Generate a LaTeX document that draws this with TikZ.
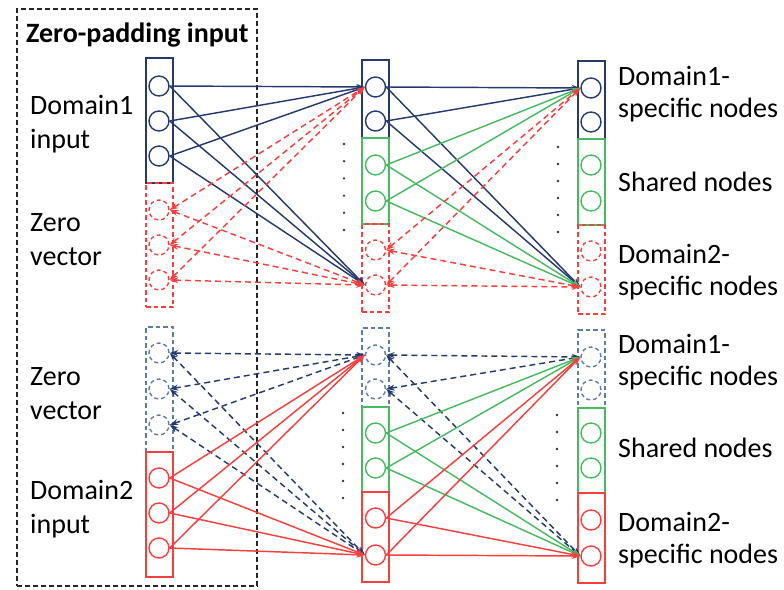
\documentclass[tikz,border=0pt]{standalone}
\usepackage{fontspec}
\setmainfont{Carlito}
\usetikzlibrary{arrows.meta}
\definecolor{navy}{RGB}{38,58,112}
\definecolor{dred}{RGB}{250,62,62}
\definecolor{sgreen}{RGB}{72,186,98}
\definecolor{steel}{RGB}{92,124,170}

\begin{document}
\begin{tikzpicture}[x=1pt,y=-1pt,
  unit/.style={circle, draw, minimum size=20pt, inner sep=0pt, line width=1.4pt},
  zunit/.style={unit, dash pattern=on 4pt off 3pt},
  colbox/.style={draw, line width=1.5pt, minimum width=27pt, inner sep=0pt},
  zbox/.style={colbox, dash pattern=on 4.5pt off 3pt},
  link/.style={line width=1.45pt, -{Stealth[length=8.5pt,width=6pt]}},
  zlink/.style={line width=1.45pt, dash pattern=on 6pt off 4pt,
    {Stealth[length=8.5pt,width=6pt]}-{Stealth[length=8.5pt,width=6pt]}},
  lbl/.style={font=\fontsize{28}{34}\selectfont, align=left, anchor=west, inner sep=0pt},
  rlbl/.style={lbl, font=\fontsize{28}{32}\selectfont},
  dot/.style={fill=black!80}
]
\useasboundingbox (0,0) rectangle (784,589);

% zero-padding frame
\node[draw=black!85, line width=1.2pt, dash pattern=on 5pt off 3pt,
  minimum width=240pt, minimum height=577pt, inner sep=0pt] (frame) at (137,297.5) {};
\node[lbl, font=\fontsize{28}{34}\selectfont\bfseries, anchor=base west] (title) at (26,42) {Zero-padding input};

% ---------------- upper network ----------------
% input column
\node[colbox, draw=navy, minimum height=125pt] (tinA) at (159.5,120.5) {};
\node[zbox, draw=dred, minimum height=124pt] (tinZ) at (159.5,245) {};
\node[unit, draw=navy] (a1) at (159,86) {};
\node[unit, draw=navy] (a2) at (159,121) {};
\node[unit, draw=navy] (a3) at (159,156) {};
\node[zunit, draw=dred] (a4) at (159,210) {};
\node[zunit, draw=dred] (a5) at (159,245) {};
\node[zunit, draw=dred] (a6) at (159,280) {};

% hidden column
\node[colbox, draw=navy, minimum height=78pt] (thA) at (375.5,99) {};
\node[colbox, draw=sgreen, minimum height=86pt] (thS) at (375.5,181) {};
\node[zbox, draw=dred, minimum height=88pt] (thB) at (375.5,268) {};
\node[unit, draw=navy] (b1) at (375.5,87) {};
\node[unit, draw=navy] (b2) at (375.5,121) {};
\node[unit, draw=sgreen] (b3) at (375.5,165) {};
\node[unit, draw=sgreen] (b4) at (375.5,201) {};
\node[zunit, draw=dred] (b5) at (375.5,250) {};
\node[zunit, draw=dred] (b6) at (375.5,285) {};

% output column
\node[colbox, draw=navy, minimum height=78pt] (toA) at (591.5,100) {};
\node[colbox, draw=sgreen, minimum height=86pt] (toS) at (591.5,182) {};
\node[zbox, draw=dred, minimum height=89pt] (toB) at (591.5,269.5) {};
\node[unit, draw=navy] (c1) at (591,88) {};
\node[unit, draw=navy] (c2) at (591,122) {};
\node[unit, draw=sgreen] (c3) at (591,165) {};
\node[unit, draw=sgreen] (c4) at (591,201) {};
\node[zunit, draw=dred] (c5) at (591,251) {};
\node[zunit, draw=dred] (c6) at (591,287) {};

% connections
\foreach \s in {a1,a2,a3} \foreach \t in {b1,b6} \draw[link, navy] (\s.east) -- (\t.west);
\foreach \s in {a4,a5,a6} \foreach \t in {b1,b6} \draw[zlink, dred] (\s.east) -- (\t.west);
\foreach \s in {b1,b2} \foreach \t in {c1,c6} \draw[link, navy] (\s.east) -- (\t.west);
\foreach \s in {b3,b4} \foreach \t in {c1,c6} \draw[link, sgreen] (\s.east) -- (\t.west);
\foreach \s in {b5,b6} \foreach \t in {c1,c6} \draw[zlink, dred] (\s.east) -- (\t.west);

% ellipsis dots
\foreach \k in {0,...,5} {
  \fill[dot] (344,144+17.2*\k) circle (1.3pt);
  \fill[dot] (558,147+17*\k) circle (1.3pt);
}

% labels
\node[lbl] (l1) at (30,124) {Domain1\\input};
\node[lbl] (l2) at (30,240) {Zero\\vector};
\node[rlbl] (r1) at (618,94) {Domain1-\\specific nodes};
\node[rlbl] (r2) at (618,182) {Shared nodes};
\node[rlbl] (r3) at (618,272) {Domain2-\\specific nodes};

% ---------------- lower network ----------------
% input column
\node[zbox, draw=steel, minimum height=125pt] (binZ) at (159.5,389.5) {};
\node[colbox, draw=dred, minimum height=125pt] (binB) at (159.5,514.5) {};
\node[zunit, draw=steel] (d1) at (159,353) {};
\node[zunit, draw=steel] (d2) at (159,389) {};
\node[zunit, draw=steel] (d3) at (159,425) {};
\node[unit, draw=dred] (d4) at (159,478) {};
\node[unit, draw=dred] (d5) at (159,513) {};
\node[unit, draw=dred] (d6) at (159,548) {};

% hidden column
\node[zbox, draw=steel, minimum height=79pt] (bhA) at (375.5,367.5) {};
\node[colbox, draw=sgreen, minimum height=85pt] (bhS) at (375.5,449.5) {};
\node[colbox, draw=dred, minimum height=90pt] (bhB) at (375.5,537) {};
\node[zunit, draw=steel] (e1) at (375.5,355) {};
\node[zunit, draw=steel] (e2) at (375.5,389) {};
\node[unit, draw=sgreen] (e3) at (375.5,433) {};
\node[unit, draw=sgreen] (e4) at (375.5,468) {};
\node[unit, draw=dred] (e5) at (375.5,518) {};
\node[unit, draw=dred] (e6) at (375.5,555) {};

% output column
\node[zbox, draw=steel, minimum height=78pt] (boA) at (591.5,369) {};
\node[colbox, draw=sgreen, minimum height=85pt] (boS) at (591.5,450.5) {};
\node[colbox, draw=dred, minimum height=90pt] (boB) at (591.5,538) {};
\node[zunit, draw=steel] (f1) at (591,357) {};
\node[zunit, draw=steel] (f2) at (591,390) {};
\node[unit, draw=sgreen] (f3) at (591,433) {};
\node[unit, draw=sgreen] (f4) at (591,468) {};
\node[unit, draw=dred] (f5) at (591,520) {};
\node[unit, draw=dred] (f6) at (591,556) {};

% connections
\foreach \s in {d1,d2,d3} \foreach \t in {e1,e6} \draw[zlink, navy] (\s.east) -- (\t.west);
\foreach \s in {d4,d5,d6} \foreach \t in {e1,e6} \draw[link, dred] (\s.east) -- (\t.west);
\foreach \s in {e1,e2} \foreach \t in {f1,f6} \draw[zlink, navy] (\s.east) -- (\t.west);
\foreach \s in {e3,e4} \foreach \t in {f1,f6} \draw[link, sgreen] (\s.east) -- (\t.west);
\foreach \s in {e5,e6} \foreach \t in {f1,f6} \draw[link, dred] (\s.east) -- (\t.west);

% ellipsis dots
\foreach \k in {0,...,5} {
  \fill[dot] (343,413+17*\k) circle (1.3pt);
  \fill[dot] (557,415+17*\k) circle (1.3pt);
}

% labels
\node[lbl] (l3) at (30,394) {Zero\\vector};
\node[lbl] (l4) at (30,509) {Domain2\\input};
\node[rlbl] (r4) at (618,362) {Domain1-\\specific nodes};
\node[rlbl] (r5) at (618,448) {Shared nodes};
\node[rlbl] (r6) at (618,540) {Domain2-\\specific nodes};
\end{tikzpicture}
\end{document}
